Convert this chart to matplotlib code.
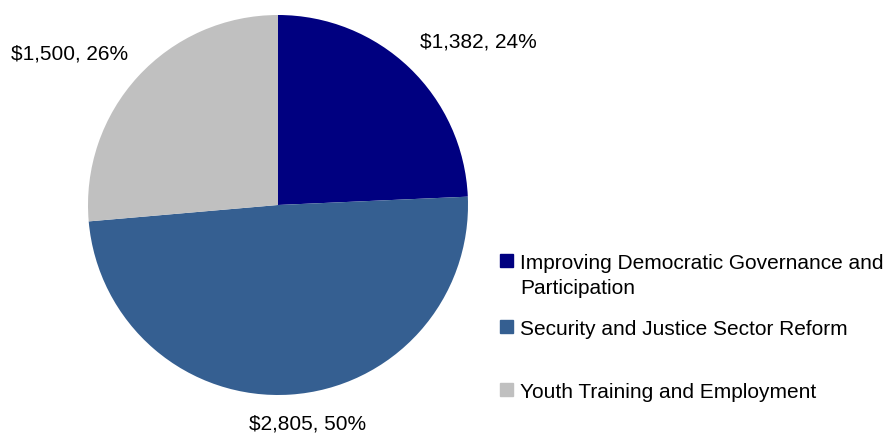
import matplotlib.pyplot as plt
from matplotlib.patches import Rectangle

plt.rcParams['font.family'] = ['Liberation Sans', 'DejaVu Sans']

# Funding by program area (thousands of dollars)
programs = ['Improving Democratic Governance and\nParticipation',
            'Security and Justice Sector Reform',
            'Youth Training and Employment']
amounts = [1382, 2805, 1500]
shares = ['24%', '50%', '26%']
colors = ['#000080', '#355F91', '#C0C0C0']

fig = plt.figure(figsize=(8.94, 4.35), dpi=100)

# pie axes: centre at (278, 206) px, radius ~190 px
W, H = 894, 435
cx, cy, r = 278, 206, 190
ax = fig.add_axes([(cx - r) / W, (H - cy - r) / H, 2 * r / W, 2 * r / H])
ax.pie(amounts, colors=colors, startangle=90, counterclock=False,
       radius=1, wedgeprops=dict(linewidth=0))
ax.set_xlim(-1, 1)
ax.set_ylim(-1, 1)
ax.axis('off')

# data labels
label_pos = [(1.052, 0.863), (0.158, -1.147), (-1.095, 0.80)]
for amt, sh, (x, y) in zip(amounts, shares, label_pos):
    ax.text(x, y, f'${amt:,}, {sh}', ha='center', va='center',
            fontsize=15, clip_on=False)

# legend drawn by hand to keep the uneven row spacing
rows_y = [262, 328, 391]
for label, c, y in zip(programs, colors, rows_y):
    fig.patches.append(Rectangle((500 / W, (H - y - 6) / H), 13 / W, 13 / H,
                                 transform=fig.transFigure, color=c))
    fig.text(520 / W, (H - y + 8) / H, label, ha='left', va='top',
             fontsize=15, linespacing=1.4)

fig.savefig('out.png', dpi=100)
